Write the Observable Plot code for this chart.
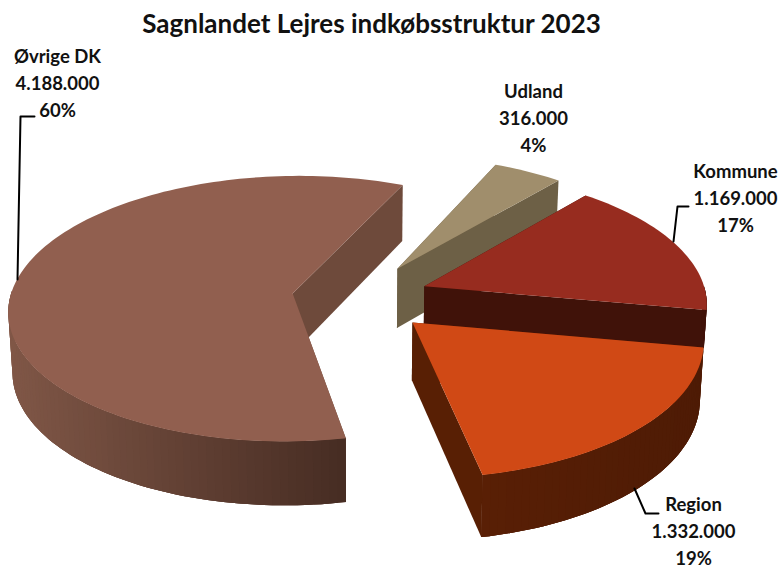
<!DOCTYPE html>
<html>
<head>
<meta charset="utf-8">
<script src="https://cdn.jsdelivr.net/npm/d3@7"></script>
<script src="https://cdn.jsdelivr.net/npm/@observablehq/plot@0.6"></script>
<style>html,body{margin:0;padding:0;background:#fff}svg{display:block}</style>
</head>
<body>
<div id="chart"></div>
<script>
// Data
const title = "Sagnlandet Lejres indkøbsstruktur 2023";
const categories = ["Udland", "Kommune", "Region", "Øvrige DK"];
const values = [316000, 1169000, 1332000, 4188000];
const valueLabels = ["316.000", "1.169.000", "1.332.000", "4.188.000"];
const percentLabels = ["4%", "17%", "19%", "60%"];

// Chart style and layout (not data)
const topColors = ["#a08e6c", "#972c1f", "#d04915", "#915f4f"];
const cutColors = ["#6d6046", "#401209", "#581f04", "#6e4a3b"];
const rimLeft = ["#6d6046", "#401209", "#591f05", "#805747"];
const rimRight = ["#6d6046", "#401209", "#4e1b05", "#472d23"];
const explodeU = [0.134, 0.228, 0.18, -0.241];
const explodeV = [-0.208, -0.07, 0.2, -0.015];
const thickness = [60, 38, 57, 59.5];
const labelX = [533, 735, 693, 57];
const labelY = [115.5, 196, 529, 80.5];
const leaders = [
  [[688, 206], [677, 206], [673, 241]],
  [[658, 513], [645, 513], [634, 488]],
  [[34, 116], [20, 116], [17, 279]]
];
const startAngle = 24, cx = 360, cy = 295, rx = 282, ry = 131.5, k = 0.114;
const font = "Lato, Carlito, sans-serif";

// Projection of a tilted circle
const total = d3.sum(values);
const rad = Math.PI / 180;
const project = (U, V, depth) => {
  const s = 1 / (1 - k * V);
  const X = cx + rx * U * s, Y = cy + ry * V * s;
  if (!depth) return [X, Y];
  return [cx + (X - cx) * (1 - 0.012 * depth / 60), Y + depth * Math.pow(s, 0.6)];
};

const polys = [];
let id = 0;
const addPoly = (pts, c) => { id++; pts.forEach(p => polys.push({id, x: p[0], y: p[1], c})); };

let acc = startAngle;
categories.forEach((name, i) => {
  const a0 = acc, a1 = acc + values[i] / total * 360;
  acc = a1;
  const O = [explodeU[i], explodeV[i]];
  const d = thickness[i];
  const n = Math.max(8, Math.round((a1 - a0) / 1.5));
  const angles = d3.range(n + 1).map(j => a0 + (a1 - a0) * j / n);
  const ground = angles.map(a => [O[0] + Math.sin(a * rad), O[1] - Math.cos(a * rad)]);
  const top = ground.map(g => project(g[0], g[1], 0));
  const bot = ground.map(g => project(g[0], g[1], d));
  const apexT = project(O[0], O[1], 0), apexB = project(O[0], O[1], d);
  // cut walls
  addPoly([apexT, top[0], bot[0], apexB], cutColors[i]);
  addPoly([apexT, top[n], bot[n], apexB], cutColors[i]);
  // outer wall: only the part facing the viewer, shaded along the rim
  const front = d3.range(n + 1).filter(j => Math.cos(angles[j] * rad) < 0.02);
  if (front.length > 1) {
    const xs = d3.extent(front, j => top[j][0]);
    const shade = d3.interpolateRgb(rimLeft[i], rimRight[i]);
    addPoly([...front.map(j => top[j]), ...front.slice().reverse().map(j => bot[j])], shade(0.5));
    for (let m = 0; m < front.length - 1; m++) {
      const j = front[m], e = front[Math.min(m + 2, front.length - 1)];
      const t = (top[j][0] - xs[0]) / (xs[1] - xs[0]);
      const seq = d3.range(j, e + 1);
      addPoly([...seq.map(q => top[q]), ...seq.reverse().map(q => bot[q])], shade(t));
    }
  }
  // top face
  addPoly([apexT, ...top], topColors[i]);
});

const labels = categories.map((c, i) => ({
  x: labelX[i], y: labelY[i],
  text: `${c}\n${valueLabels[i]}\n${percentLabels[i]}`
}));
const leaderRows = leaders.flatMap((l, i) => l.map(p => ({i, x: p[0], y: p[1]})));

const chart = Plot.plot({
  width: 784, height: 565, margin: 0,
  x: {type: "linear", domain: [0, 784], range: [0, 784], axis: null},
  y: {type: "linear", domain: [0, 565], range: [0, 565], axis: null},
  color: {type: "identity"},
  style: {background: "#fff"},
  marks: [
    Plot.line(polys, {
      x: "x", y: "y", z: "id",
      fill: d => d.c, curve: "linear-closed"
    }),
    Plot.line(leaderRows, {x: "x", y: "y", z: "i", stroke: "#000", strokeWidth: 2, curve: "linear"}),
    Plot.text(labels, {
      x: "x", y: "y", text: "text", lineHeight: 1.47, lineAnchor: "middle",
      fontFamily: font, fontWeight: 700, fontSize: 18.5, fill: "#111",
      textAnchor: "middle"
    }),
    Plot.text([title], {
      x: () => 371, y: () => 24, text: d => d, lineAnchor: "middle",
      fontFamily: font, fontWeight: 700, fontSize: 26, fill: "#111", textAnchor: "middle"
    })
  ]
});
document.getElementById("chart").appendChild(chart);
</script>
</body>
</html>
